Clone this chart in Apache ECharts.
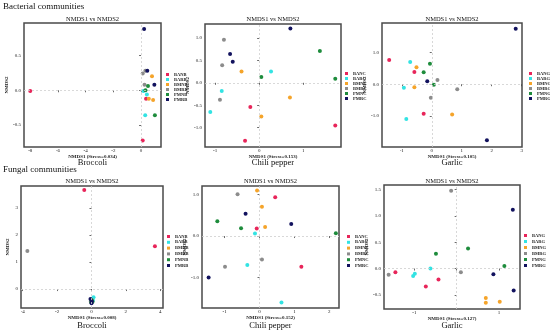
<!DOCTYPE html>
<html><head><meta charset="utf-8">
<script src="https://cdn.jsdelivr.net/npm/echarts@6/dist/echarts.min.js"></script>
<style>html,body{margin:0;padding:0;background:#fff}#c{width:550px;height:333px}</style>
</head><body><div id="c"></div>
<script>
// ---------- DATA ----------
const groups = ['BAN', 'BAR', 'BMN', 'BMR', 'PMN', 'PMR'];

// [group, NMDS1, NMDS2]
const bacBroccoli = [
  ['BAN', -8.0, -0.01], ['BAN', 0.36, -0.12], ['BAN', 0.12, -0.72],
  ['BAR', 0.17, -0.01], ['BAR', 0.42, -0.06], ['BAR', 0.30, -0.36],
  ['BMN', 0.79, 0.20], ['BMN', 0.56, -0.12], ['BMN', 0.87, -0.14],
  ['BMR', 0.31, 0.28], ['BMR', 0.12, 0.24], ['BMR', 0.25, 0.08],
  ['PMN', 0.50, 0.06], ['PMN', 0.32, 0.0], ['PMN', 1.0, -0.36],
  ['PMR', 0.22, 0.88], ['PMR', 0.45, 0.28], ['PMR', 0.96, 0.08]
];
const bacChili = [
  ['BAN', -0.20, -0.54], ['BAN', 1.73, -0.95], ['BAN', -0.32, -1.29],
  ['BAR', 0.27, 0.25], ['BAR', -0.85, -0.18], ['BAR', -1.11, -0.65],
  ['BMN', -0.40, 0.25], ['BMN', 0.70, -0.33], ['BMN', 0.05, -0.75],
  ['BMR', -0.80, 0.96], ['BMR', -0.84, 0.39], ['BMR', -0.89, -0.38],
  ['PMN', 0.05, 0.13], ['PMN', 1.38, 0.71], ['PMN', 1.73, 0.09],
  ['PMR', -0.66, 0.64], ['PMR', -0.60, 0.47], ['PMR', 0.71, 1.21]
];
const bacGarlic = [
  ['BAN', -1.42, 0.77], ['BAN', -0.58, 0.39], ['BAN', -0.27, -0.94],
  ['BAR', -0.72, 0.70], ['BAR', -0.93, -0.11], ['BAR', -0.85, -1.10],
  ['BMN', -0.51, 0.54], ['BMN', -0.58, -0.10], ['BMN', 0.68, -0.96],
  ['BMR', 0.19, 0.13], ['BMR', 0.85, -0.16], ['BMR', -0.03, -0.43],
  ['PMN', -0.06, 0.65], ['PMN', -0.27, 0.38], ['PMN', 0.07, -0.02],
  ['PMR', 2.80, 1.76], ['PMR', -0.15, 0.09], ['PMR', 1.84, -1.78]
];
const fungBroccoli = [
  ['BAN', -0.42, 3.66], ['BAN', 3.69, 1.58], ['BAN', 0.02, -0.42],
  ['BAR', 0.12, -0.30], ['BAR', 0.05, -0.38], ['BAR', 0.08, -0.42],
  ['BMN', 0.0, -0.40], ['BMN', 0.04, -0.44], ['BMN', -0.02, -0.46],
  ['BMR', -3.73, 1.41], ['BMR', 0.03, -0.43], ['BMR', -0.03, -0.45],
  ['PMN', 0.01, -0.41], ['PMN', 0.06, -0.47], ['PMN', -0.01, -0.49],
  ['PMR', -0.06, -0.37], ['PMR', 0.02, -0.45], ['PMR', 0.0, -0.52]
];
const fungChili = [
  ['BAN', 0.45, 0.94], ['BAN', -0.08, 0.18], ['BAN', 1.20, -0.74],
  ['BAR', -0.13, 0.06], ['BAR', -0.35, -0.70], ['BAR', 0.63, -1.61],
  ['BMN', -0.07, 1.10], ['BMN', 0.07, 0.71], ['BMN', 0.16, 0.22],
  ['BMR', -0.63, 1.01], ['BMR', 0.07, -0.57], ['BMR', -0.99, -0.74],
  ['PMN', -1.21, 0.36], ['PMN', -0.53, 0.19], ['PMN', 2.19, 0.07],
  ['PMR', -0.40, 0.54], ['PMR', 0.91, 0.29], ['PMR', -1.46, -1.00]
];
const fungGarlic = [
  ['BAN', -1.45, -0.07], ['BAN', -0.43, -0.21], ['BAN', -0.73, -0.34],
  ['BAR', -0.62, 0.00], ['BAR', -0.99, -0.10], ['BAR', -1.03, -0.14],
  ['BMN', 0.69, -0.56], ['BMN', 0.69, -0.65], ['BMN', 1.02, -0.63],
  ['BMR', -0.13, 1.48], ['BMR', 0.10, -0.07], ['BMR', -1.61, -0.12],
  ['PMN', 0.27, 0.38], ['PMN', -0.49, 0.28], ['PMN', 1.13, 0.05],
  ['PMR', 1.33, 1.12], ['PMR', 0.87, -0.11], ['PMR', 1.35, -0.42]
];

// tick values / labels
const bacBroccoliXTicks = [-8, -6, -4, -2, 0];
const bacBroccoliYTicks = [-0.5, 0, 0.5];
const bacChiliXTicks = [-1, 0, 1];
const bacChiliYTicks = [-1, -0.5, 0, 0.5, 1];
const bacGarlicXTicks = [-1, 0, 1, 2, 3];
const bacGarlicYTicks = [-1, 0, 1];
const fungBroccoliXTicks = [-4, -2, 0, 2, 4];
const fungBroccoliYTicks = [0, 1, 2, 3];
const fungChiliXTicks = [-1, 0, 1, 2];
const fungChiliYTicks = [-1, 0, 1];
const fungGarlicXTicks = [-1, 0, 1];
const fungGarlicXLabels = [-1, 1];
const fungGarlicYTicks = [-0.5, 0, 0.5, 1, 1.5];

const stressValues = ['0.034', '0.153', '0.105', '0.008', '0.152', '0.127'];
const cropNames = ['Broccoli', 'Chili pepper', 'Garlic', 'Broccoli', 'Chili pepper', 'Garlic'];
const sectionTitles = ['Bacterial communities', 'Fungal communities'];

// ---------- STYLE / LAYOUT ----------
const groupColors = ['#e8255a', '#33e3e3', '#f5a42a', '#8c8c8c', '#1e8c3c', '#12125e'];
const FONT = "'Times New Roman','Liberation Serif',serif";

const panels = [
  {pts: bacBroccoli, sfx: 'B', xt: bacBroccoliXTicks, xl: bacBroccoliXTicks, yt: bacBroccoliYTicks, yd: 1,
   xr: [-8.45, 1.44], yr: [-0.815, 0.967], box: [24, 23, 137, 124], leg: [166, 72, 0], yGap: 11, tY: 19, cY: 163},
  {pts: bacChili, sfx: 'C', xt: bacChiliXTicks, xl: bacChiliXTicks, yt: bacChiliYTicks, yd: 1,
   xr: [-1.23, 1.86], yr: [-1.43, 1.31], box: [205, 24, 136, 123], leg: [345, 71, 0], yGap: 13, tY: 19, cY: 163},
  {pts: bacGarlic, sfx: 'G', xt: bacGarlicXTicks, xl: bacGarlicXTicks, yt: bacGarlicYTicks, yd: 1,
   xr: [-1.66, 3.01], yr: [-1.99, 1.94], box: [382, 23, 140, 124], leg: [529, 71, 0], yGap: 11, tY: 19, cY: 163},
  {pts: fungBroccoli, sfx: 'B', xt: fungBroccoliXTicks, xl: fungBroccoliXTicks, yt: fungBroccoliYTicks, yd: 0,
   xr: [-4.10, 4.16], yr: [-0.70, 3.81], box: [21, 186, 142, 122], leg: [167, 234, 0.8], yGap: 11, tY: 181, cY: 326},
  {pts: fungChili, sfx: 'C', xt: fungChiliXTicks, xl: fungChiliXTicks, yt: fungChiliYTicks, yd: 1,
   xr: [-1.65, 2.28], yr: [-1.74, 1.21], box: [202, 186, 137, 122], leg: [347, 234, 0.8], yGap: 11.5, tY: 181, cY: 326},
  {pts: fungGarlic, sfx: 'G', xt: fungGarlicXTicks, xl: fungGarlicXLabels, yt: fungGarlicYTicks, yd: 1,
   xr: [-1.72, 1.50], yr: [-0.77, 1.59], box: [384, 185, 136, 124], leg: [524, 233, 1], yGap: 12.5, tY: 181, cY: 326}
];

const chart = echarts.init(document.getElementById('c'), null, {renderer: 'canvas'});
const grid = [], xAxis = [], yAxis = [], series = [], legend = [], graphic = [];

graphic.push({type: 'text', x: 3, y: 7, style: {text: sectionTitles[0], fontSize: 9, fontFamily: FONT, fill: '#111', align: 'left', verticalAlign: 'middle', textAlign: 'left', textVerticalAlign: 'middle'}});
graphic.push({type: 'text', x: 3, y: 170, style: {text: sectionTitles[1], fontSize: 9, fontFamily: FONT, fill: '#111', align: 'left', verticalAlign: 'middle', textAlign: 'left', textVerticalAlign: 'middle'}});

panels.forEach((p, i) => {
  const [l, t, w, h] = p.box;
  grid.push({left: l, top: t, width: w, height: h, show: true, borderColor: '#4a4a4a', borderWidth: 1.5,
    backgroundColor: 'transparent', containLabel: false, outerBoundsMode: 'none'});
  xAxis.push({
    gridIndex: i, type: 'value', min: p.xr[0], max: p.xr[1],
    splitLine: {show: false}, axisLine: {show: false},
    axisTick: {show: true, customValues: p.xt, length: 2, lineStyle: {color: '#444', width: 0.8}},
    axisLabel: {customValues: p.xl, fontSize: 5, margin: 1.5, color: '#222', fontFamily: FONT,
      formatter: v => String(v)},
    name: 'NMDS1 (Stress=' + stressValues[i] + ')', nameLocation: 'middle', nameGap: 6,
    nameTextStyle: {fontSize: 5, fontWeight: 'bold', fontFamily: FONT, color: '#222'}
  });
  yAxis.push({
    gridIndex: i, type: 'value', min: p.yr[0], max: p.yr[1],
    splitLine: {show: false}, axisLine: {show: false},
    axisTick: {show: true, customValues: p.yt, length: 2, lineStyle: {color: '#444', width: 0.8}},
    axisLabel: {customValues: p.yt, fontSize: 5, margin: 3, color: '#222', fontFamily: FONT,
      formatter: v => v.toFixed(p.yd)},
    name: 'NMDS2', nameLocation: 'middle', nameGap: p.yGap, nameRotate: 90,
    nameTextStyle: {fontSize: 5, fontWeight: 'bold', fontFamily: FONT, color: '#222'}
  });
  groups.forEach((g, k) => {
    const data = p.pts.filter(r => r[0] === g).map(r => [r[1], r[2]]);
    const s = {type: 'scatter', name: g + p.sfx, xAxisIndex: i, yAxisIndex: i, data: data,
      symbol: 'circle', symbolSize: 4, itemStyle: {color: groupColors[k], opacity: 1}, z: 3, animation: false};
    if (k === 0) {
      s.markLine = {silent: true, symbol: ['none', 'none'], label: {show: false}, animation: false,
        lineStyle: {type: [2, 2], color: '#cfcfcf', width: 0.8}, emphasis: {disabled: true},
        data: [{xAxis: 0}, {yAxis: 0}]};
    }
    series.push(s);
  });
  legend.push({orient: 'vertical', left: p.leg[0], top: p.leg[1], itemWidth: 3, itemHeight: 3, itemGap: p.leg[2],
    icon: 'rect', selectedMode: false, padding: 0, data: groups.map(g => g + p.sfx),
    textStyle: {fontSize: 4.5, lineHeight: 4, fontFamily: FONT, color: '#222', fontWeight: 'bold'}});
  const cx = l + w / 2;
  graphic.push({type: 'text', x: cx, y: p.tY, style: {text: 'NMDS1 vs NMDS2', fontSize: 6.5, fontFamily: FONT, fill: '#111',
    align: 'center', verticalAlign: 'middle', textAlign: 'center', textVerticalAlign: 'middle'}});
  graphic.push({type: 'text', x: cx, y: p.cY, style: {text: cropNames[i], fontSize: 8.5, fontFamily: FONT, fill: '#111',
    align: 'center', verticalAlign: 'middle', textAlign: 'center', textVerticalAlign: 'middle'}});
});

chart.setOption({
  animation: false,
  backgroundColor: '#fff',
  grid, xAxis, yAxis, series, legend, graphic
});
</script>
</body></html>
